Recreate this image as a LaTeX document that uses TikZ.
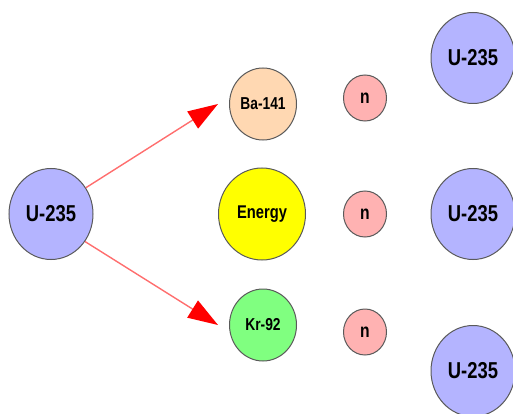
\documentclass[tikz,border=0pt]{standalone}
\usepackage{fontspec}
\setmainfont{Liberation Sans}
\usetikzlibrary{arrows.meta,shapes.geometric}
\definecolor{uc}{RGB}{180,180,255}
\definecolor{bac}{RGB}{255,216,178}
\definecolor{enc}{RGB}{255,255,0}
\definecolor{krc}{RGB}{128,255,128}
\definecolor{nc}{RGB}{255,178,178}
\definecolor{edgec}{RGB}{90,90,90}
\definecolor{linec}{RGB}{255,110,110}
\newcommand{\tallt}[1]{\scalebox{0.92}[1.15]{#1}}
\begin{document}
\begin{tikzpicture}[x=1pt,y=-1pt,
  ball/.style={ellipse,draw=edgec,line width=1pt,inner sep=0pt,text=black},
  big/.style={ball,fill=uc,minimum width=84pt,minimum height=91pt,font=\bfseries\fontsize{20}{20}\selectfont},
  mid/.style={ball,minimum width=67pt,minimum height=72pt,font=\bfseries\fontsize{15}{15}\selectfont},
  neut/.style={ball,fill=nc,minimum width=43pt,minimum height=46pt,font=\bfseries\fontsize{17}{17}\selectfont},
  fiss/.style={draw=linec,line width=1.4pt,-{Triangle[length=30pt,width=20pt,color=red]}}]
\useasboundingbox (0,0) rectangle (513,414);
\clip (0,0) rectangle (513,414);
\node[big] (u) at (51,214) {\tallt{U-235}};
\node[mid,fill=bac] (ba) at (263,104) {\tallt{Ba-141}};
\node[mid,fill=enc,minimum width=87pt,minimum height=92pt,font=\bfseries\fontsize{16}{16}\selectfont] (en) at (262,214) {\tallt{Energy}};
\node[mid,fill=krc] (kr) at (263,325) {\tallt{Kr-92}};
\node[neut] (n1) at (365,98) {\tallt{n}};
\node[neut] (n2) at (365,214) {\tallt{n}};
\node[neut] (n3) at (365,332) {\tallt{n}};
\node[big] (u1) at (473,58) {\tallt{U-235}};
\node[big] (u2) at (473,214) {\tallt{U-235}};
\node[big] (u3) at (473,371) {\tallt{U-235}};
\coordinate (t1) at ([xshift=-11pt]ba.west);
\coordinate (t2) at ([xshift=-11pt]kr.west);
\draw[fiss] (u.37) -- (t1);
\draw[fiss] (u.-39) -- (t2);
\end{tikzpicture}
\end{document}
